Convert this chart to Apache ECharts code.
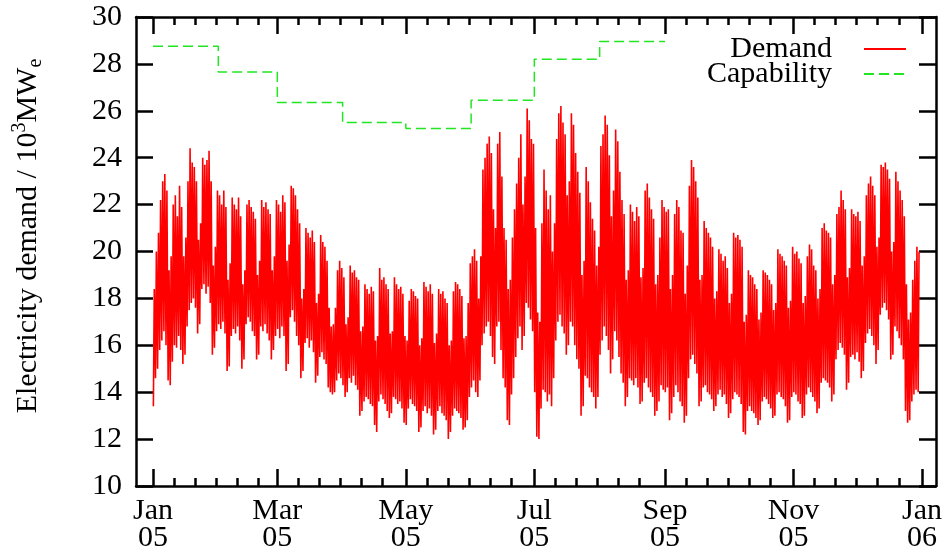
<!DOCTYPE html>
<html>
<head>
<meta charset="utf-8">
<script src="https://cdn.jsdelivr.net/npm/echarts@6/dist/echarts.min.js"></script>
<style>
  html, body { margin: 0; padding: 0; background: #fff; }
  #main { width: 947px; height: 554px; }
</style>
</head>
<body>
<div id="main"></div>
<script>
var FONT = '"Liberation Serif", "DejaVu Serif", serif';

// x axis is in days from 1 Jan 2005 (day 0)
var tickDays = [0, 59, 120, 181, 243, 304, 365];
var tickLabels = ['Jan\n05', 'Mar\n05', 'May\n05', 'Jul\n05', 'Sep\n05', 'Nov\n05', 'Jan\n06'];
var minorTickDays = [10, 20, 30, 40, 50, 69, 79, 89, 99, 109, 130, 140, 150, 160, 170,
  191, 201, 211, 221, 231, 253, 263, 273, 283, 293, 314, 324, 334, 344, 354];

// daily peak demand, 10^3 MWe (one row per week, Sat..Fri)
var dailyHigh = [
  18.4, 20.0, 20.8, 22.2, 23.0, 23.3, 22.6,
  19.2, 19.8, 22.0, 22.4, 21.5, 22.8, 21.9,
  19.8, 20.6, 23.0, 24.4, 23.8, 23.6, 23.0,
  20.5, 21.2, 24.0, 23.7, 23.9, 24.3, 23.0,
  19.4, 20.2, 22.6, 22.4, 22.0, 22.6, 21.9,
  18.8, 19.5, 22.3, 22.0, 21.8, 22.3, 21.5,
  18.6, 19.2, 22.0, 22.2, 21.9, 21.7, 21.4,
  19.0, 19.6, 22.2, 21.9, 22.1, 21.8, 21.6,
  19.2, 19.8, 22.2, 22.0, 21.7, 22.4, 22.1,
  19.6, 20.3, 22.8, 22.7, 22.4, 21.8, 21.2,
  18.0, 18.4, 21.0, 20.8, 20.6, 20.9, 20.4,
  17.8, 18.2, 20.7, 20.4, 20.2, 19.6, 17.6,
  16.8, 16.9, 17.6, 19.2, 19.6, 19.3, 18.9,
  16.9, 17.2, 19.4, 19.1, 19.2, 18.9, 18.8,
  16.6, 16.8, 18.6, 18.4, 18.2, 18.5, 18.3,
  16.2, 16.4, 19.3, 18.8, 18.9, 18.6, 18.4,
  16.5, 16.6, 18.9, 18.6, 18.4, 18.5, 18.2,
  16.4, 16.2, 17.9, 18.4, 18.3, 18.1, 18.0,
  16.0, 16.3, 18.7, 18.5, 18.3, 18.6, 18.2,
  16.1, 16.5, 18.4, 18.2, 18.3, 18.0, 17.8,
  16.0, 16.2, 18.3, 18.7, 18.6, 18.4, 18.1,
  16.3, 16.4, 17.8, 19.5, 19.8, 20.1, 19.6,
  18.0, 19.8, 23.5, 24.0, 24.6, 24.9, 24.2,
  21.8, 21.0, 24.6, 25.1, 23.2, 21.0, 20.5,
  18.4, 18.8, 20.6, 21.8, 22.9, 24.0, 25.0,
  22.0, 23.2, 26.1, 25.6, 24.8, 24.6, 21.0,
  17.4, 17.0, 21.2, 23.5, 22.6, 21.8, 22.4,
  20.0, 21.2, 24.8, 25.9, 26.2, 25.5, 25.0,
  22.4, 23.0, 25.9, 25.4, 24.2, 23.4, 22.5,
  19.0, 19.6, 23.6, 23.0, 22.1, 21.4, 20.9,
  19.4, 20.2, 24.5, 25.0, 25.8, 25.4, 24.1,
  21.5, 22.6, 25.2, 24.7, 23.4, 22.2, 21.6,
  18.8, 19.2, 22.0, 21.7, 21.3, 21.9, 21.5,
  18.9, 19.3, 22.6, 22.9, 22.3, 21.8, 21.4,
  18.6, 19.0, 20.6, 22.2, 21.9, 21.7, 21.8,
  18.4, 19.0, 21.6, 22.2, 21.9, 20.9, 20.8,
  18.2, 19.4, 22.8, 23.9, 23.6, 23.0, 22.3,
  18.8, 19.0, 21.3, 21.0, 20.8, 20.6, 20.2,
  18.0, 18.3, 20.1, 19.9, 19.6, 19.8, 19.3,
  17.8, 18.2, 20.8, 20.6, 20.7, 20.5, 20.2,
  17.0, 17.3, 19.2, 19.0, 18.9, 18.6, 18.4,
  17.1, 17.4, 19.2, 19.1, 19.0, 18.8, 18.6,
  17.5, 17.8, 20.1, 19.9, 19.8, 19.6, 19.4,
  17.6, 17.9, 20.2, 19.9, 20.0, 19.7, 19.5,
  17.8, 18.1, 19.8, 20.3, 20.1, 19.4, 19.2,
  18.0, 18.4, 21.0, 21.2, 20.9, 20.8, 20.6,
  18.6, 19.0, 21.6, 21.9, 22.6, 22.2, 21.8,
  18.9, 19.3, 21.8, 21.6, 21.5, 21.7, 21.3,
  19.4, 19.8, 22.4, 22.9, 23.2, 22.8, 22.4,
  20.2, 20.6, 23.7, 23.6, 23.8, 23.5, 23.1,
  20.0, 20.4, 23.4, 23.0, 22.6, 22.2, 21.5,
  18.6, 17.1, 17.4, 18.8, 19.6, 20.2, 20.0
];

// daily overnight minimum demand, 10^3 MWe
var dailyLow = [
  13.4, 14.6, 15.0, 15.8, 16.2, 16.6, 16.0,
  14.5, 14.3, 15.3, 16.0, 15.9, 16.4, 15.8,
  15.2, 15.6, 16.8, 17.5, 17.8, 18.0, 17.6,
  16.5, 16.9, 18.4, 18.6, 18.2, 18.5, 17.8,
  15.6, 15.9, 16.6, 16.9, 16.7, 17.0, 16.5,
  14.9, 15.1, 16.4, 16.7, 16.5, 16.8, 16.2,
  15.0, 15.4, 16.9, 17.2, 17.0, 16.6, 16.4,
  15.4, 15.6, 16.8, 16.6, 16.9, 16.5, 16.2,
  15.4, 15.8, 16.4, 16.7, 16.3, 16.8, 16.4,
  14.9, 15.2, 17.2, 17.5, 17.0, 16.4, 16.0,
  14.6, 14.9, 16.1, 16.3, 15.9, 16.2, 15.7,
  14.4, 14.7, 15.5, 15.7, 15.4, 15.2, 14.2,
  14.0, 13.9, 14.0, 14.5, 14.8, 14.6, 14.3,
  13.8, 14.0, 14.6, 14.4, 14.7, 14.3, 14.1,
  13.0, 13.2, 13.6, 13.8, 13.7, 13.5, 13.4,
  12.6, 12.3, 13.6, 13.9, 13.7, 13.5, 13.2,
  12.9, 13.1, 13.8, 13.7, 13.5, 13.6, 13.3,
  12.7, 12.6, 13.3, 13.7, 13.5, 13.4, 13.2,
  12.3, 12.5, 13.2, 13.4, 13.1, 13.3, 13.0,
  12.2, 12.4, 13.2, 13.4, 13.1, 13.0, 12.8,
  12.0, 12.3, 13.0, 13.3, 13.2, 13.1, 12.9,
  12.4, 12.5, 12.8, 13.8, 14.2, 14.5, 14.0,
  13.8, 14.5, 16.0, 16.5, 16.8, 17.0, 16.4,
  15.5, 15.2, 16.8, 17.0, 15.8, 14.6, 14.2,
  12.8, 12.6, 13.9, 14.6, 15.5, 16.3, 16.8,
  15.8, 16.4, 17.8, 17.6, 17.1, 16.6, 14.0,
  12.1, 12.0, 13.3, 14.1, 14.0, 13.6, 13.9,
  13.4, 14.6, 16.2, 17.0, 17.3, 16.8, 16.5,
  15.6, 16.0, 17.0, 16.8, 16.0, 15.4, 15.0,
  13.0, 13.4, 14.7, 14.6, 14.2, 14.0, 13.8,
  13.3, 13.8, 15.6, 16.2, 16.8, 16.4, 15.8,
  14.8, 15.4, 16.6, 16.2, 15.5, 14.8, 14.4,
  13.4, 13.8, 14.6, 14.5, 14.3, 14.6, 14.2,
  13.5, 13.6, 14.4, 14.6, 14.2, 14.0, 13.8,
  13.0, 13.2, 13.6, 14.3, 14.1, 14.0, 14.2,
  12.8, 13.1, 13.8, 14.3, 14.0, 13.6, 13.4,
  12.7, 13.0, 14.6, 15.4, 15.6, 15.2, 14.8,
  13.4, 13.6, 14.2, 14.3, 14.0, 13.9, 13.7,
  13.2, 13.4, 13.9, 14.1, 13.8, 13.9, 13.5,
  12.9, 13.1, 13.7, 14.0, 13.9, 13.8, 13.5,
  12.3, 12.2, 13.2, 13.4, 13.2, 13.1, 12.9,
  12.6, 12.8, 13.6, 13.8, 13.7, 13.5, 13.3,
  12.9, 13.0, 13.9, 14.0, 13.8, 13.7, 13.4,
  12.7, 12.8, 13.8, 14.0, 13.9, 13.6, 13.5,
  12.9, 13.0, 13.9, 14.2, 14.0, 13.8, 13.6,
  13.1, 13.3, 14.4, 14.6, 14.5, 14.4, 14.2,
  13.6, 13.9, 15.4, 15.8, 16.1, 15.9, 15.6,
  14.1, 14.4, 15.5, 15.6, 15.4, 15.7, 15.3,
  14.6, 14.9, 16.1, 16.5, 16.7, 16.4, 16.0,
  15.2, 15.8, 17.3, 17.6, 17.8, 17.5, 17.1,
  15.4, 15.6, 16.8, 16.6, 16.3, 16.0, 15.4,
  13.2, 12.7, 12.8, 13.6, 13.9, 14.1, 14.0
];

// monthly generating capability, Jan..Aug (+ end point)
var capabilityDays = [0, 31, 59, 90, 120, 151, 181, 212, 243];
var capabilityValues = [28.75, 27.65, 26.35, 25.5, 25.25, 26.45, 28.2, 28.95, 28.95];

var demandData = [];
for (var d = 0; d < dailyHigh.length; d++) {
  demandData.push([d + 0.18, dailyLow[d]]);
  demandData.push([d + 0.6, dailyHigh[d]]);
}
var capabilityData = capabilityDays.map(function (x, i) { return [x, capabilityValues[i]]; });

var chartDom = document.getElementById('main');
var myChart = echarts.init(chartDom, null, { renderer: 'canvas' });

var X_MIN = -8.07, X_MAX = 371.65;
var AXIS_LINE = { show: true, onZero: false, lineStyle: { color: '#000', width: 2.5 } };
var NO_LINE = { show: false, onZero: false };

function xAxisDef(pos, values, len, labels, line) {
  return {
    type: 'value', position: pos, min: X_MIN, max: X_MAX,
    axisLine: line ? AXIS_LINE : NO_LINE,
    axisTick: { show: true, inside: true, length: len, customValues: values,
      lineStyle: { color: '#000', width: 2.5 } },
    axisLabel: labels ? {
      show: true, customValues: tickDays, fontFamily: FONT, fontSize: 30, color: '#000',
      lineHeight: 27, margin: 12,
      formatter: function (v) {
        var i = tickDays.indexOf(Math.round(v));
        return i >= 0 ? tickLabels[i] : '';
      }
    } : { show: false },
    splitLine: { show: false }
  };
}

var option = {
  animation: false,
  backgroundColor: '#fff',
  grid: { left: 136, right: 11, top: 17, bottom: 68, containLabel: false, outerBoundsMode: 'none' },
  legend: {
    orient: 'vertical', right: 40, top: 34, align: 'right', padding: 0,
    itemWidth: 42, itemHeight: 14, itemGap: -5,
    itemStyle: { opacity: 0 },
    textStyle: { fontFamily: FONT, fontSize: 30, color: '#000', padding: [0, 27, 0, 0] },
    data: ['Demand', 'Capability']
  },
  xAxis: [
    xAxisDef('bottom', tickDays, 17, true, true),
    xAxisDef('bottom', minorTickDays, 8, false, false),
    xAxisDef('top', tickDays, 17, false, true),
    xAxisDef('top', minorTickDays, 8, false, false)
  ],
  yAxis: [
    {
      type: 'value', position: 'left', min: 10, max: 30, interval: 2,
      axisLine: AXIS_LINE,
      axisTick: { show: true, inside: true, length: 17, lineStyle: { color: '#000', width: 2.5 } },
      axisLabel: { fontFamily: FONT, fontSize: 30, color: '#000', margin: 14 },
      splitLine: { show: false }
    },
    {
      type: 'value', position: 'right', min: 10, max: 30, interval: 2,
      axisLine: AXIS_LINE,
      axisTick: { show: true, inside: true, length: 17, lineStyle: { color: '#000', width: 2.5 } },
      axisLabel: { show: false },
      splitLine: { show: false }
    }
  ],
  graphic: [{
    type: 'text', x: 28, y: 236, rotation: Math.PI / 2,
    style: {
      text: '{n|Electricity demand / 10}{s|3}{n|MW}{b|e}',
      align: 'center', verticalAlign: 'middle', fill: '#000',
      rich: {
        n: { fontFamily: FONT, fontSize: 30, lineHeight: 36, fill: '#000' },
        s: { fontFamily: FONT, fontSize: 20, lineHeight: 20, verticalAlign: 'top', fill: '#000' },
        b: { fontFamily: FONT, fontSize: 20, lineHeight: 20, verticalAlign: 'bottom', fill: '#000' }
      }
    }
  }],
  series: [
    {
      name: 'Demand', type: 'line', data: demandData, xAxisIndex: 0, yAxisIndex: 0,
      symbol: 'none', color: '#ff0000',
      lineStyle: { color: '#ff0000', width: 1.6 }
    },
    {
      name: 'Capability', type: 'line', data: capabilityData, xAxisIndex: 0, yAxisIndex: 0,
      symbol: 'none', step: 'end', color: '#22e622',
      lineStyle: { color: '#22e622', width: 1.5, type: [10, 5] }
    }
  ]
};

if (chartDom && myChart) {
  myChart.setOption(option);
} else {
  console.error('Failed to initialize the chart');
}
</script>
</body>
</html>
